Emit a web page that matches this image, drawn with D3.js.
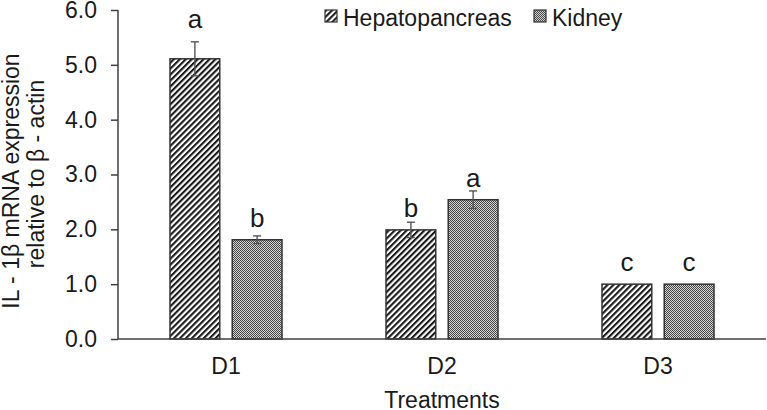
<!DOCTYPE html>
<html>
<head>
<meta charset="utf-8">
<script src="https://cdn.jsdelivr.net/npm/d3@7"></script>
<style>
  body { margin: 0; background: #fff; }
  text { font-family: "Liberation Sans", Arial, sans-serif; fill: #1a1a1a; }
</style>
</head>
<body>
<script>
var categories = ["D1", "D2", "D3"];
var series = ["Hepatopancreas", "Kidney"];
var hepato = [5.11, 1.99, 1.0];
var hepatoErr = [0.31, 0.14, 0];
var kidney = [1.81, 2.54, 1.0];
var kidneyErr = [0.07, 0.16, 0];
var hepatoLetters = ["a", "b", "c"];
var kidneyLetters = ["b", "a", "c"];
var yTicks = [0, 1, 2, 3, 4, 5, 6];

var width = 767,
    height = 410,
    plotLeft = 118, plotRight = 766, plotTop = 10, plotBottom = 339;

var rows = [];
categories.forEach(function(c, i) {
  rows.push({cat: c, s: series[0], v: hepato[i], e: hepatoErr[i], l: hepatoLetters[i]});
  rows.push({cat: c, s: series[1], v: kidney[i], e: kidneyErr[i], l: kidneyLetters[i]});
});

var svg = d3.select("body").append("svg")
    .attr("width", width)
    .attr("height", height);

var defs = svg.append("defs");
var hatch = defs.append("pattern")
    .attr("id", "hatch")
    .attr("patternUnits", "userSpaceOnUse")
    .attr("width", 4.2).attr("height", 4.2)
    .attr("patternTransform", "rotate(45)");
hatch.append("rect").attr("width", 4.2).attr("height", 4.2).attr("fill", "#fff");
hatch.append("rect").attr("width", 2.1).attr("height", 4.2).attr("fill", "#1a1a1a");

var checker = defs.append("pattern")
    .attr("id", "checker")
    .attr("patternUnits", "userSpaceOnUse")
    .attr("width", 2).attr("height", 2);
checker.append("rect").attr("width", 2).attr("height", 2).attr("fill", "#cfcfcf");
checker.append("rect").attr("width", 1).attr("height", 1).attr("fill", "#4a4a4a");
checker.append("rect").attr("x", 1).attr("y", 1).attr("width", 1).attr("height", 1).attr("fill", "#4a4a4a");

var fills = {"Hepatopancreas": "url(#hatch)", "Kidney": "url(#checker)"};

var x0 = d3.scaleBand().domain(categories).range([plotLeft, plotRight]);
var x1 = d3.scaleBand().domain(series)
    .range([x0.bandwidth() / 2 - 56, x0.bandwidth() / 2 + 56])
    .paddingInner(0.2);
var y = d3.scaleLinear().domain([0, 6]).range([plotBottom, plotTop]);

// y axis
var yAxis = svg.append("g")
    .attr("transform", "translate(" + plotLeft + ",0)")
    .call(d3.axisLeft(y).tickValues(yTicks).tickSize(7).tickPadding(14)
      .tickFormat(d3.format(".1f")));
yAxis.selectAll("text").style("font-size", "23px").attr("fill", "#1a1a1a");
yAxis.selectAll("line, path").attr("stroke", "#404040").attr("stroke-width", 1.5);
yAxis.select(".domain").attr("d", "M0," + plotTop + "V" + plotBottom);

// bars
svg.selectAll(".bar")
    .data(rows)
  .enter().append("rect")
    .attr("class", "bar")
    .attr("x", function(d) { return x0(d.cat) + x1(d.s); })
    .attr("y", function(d) { return y(d.v); })
    .attr("width", x1.bandwidth())
    .attr("height", function(d) { return y(0) - y(d.v); })
    .attr("fill", function(d) { return fills[d.s]; })
    .attr("stroke", "#333")
    .attr("stroke-width", 1.5);

// error bars
var eb = svg.selectAll(".err")
    .data(rows.filter(function(d) { return d.e > 0; }))
  .enter().append("g")
    .attr("class", "err")
    .attr("stroke", "#555")
    .attr("stroke-width", 1.4);
eb.append("line")
    .attr("x1", function(d) { return x0(d.cat) + x1(d.s) + x1.bandwidth() / 2; })
    .attr("x2", function(d) { return x0(d.cat) + x1(d.s) + x1.bandwidth() / 2; })
    .attr("y1", function(d) { return y(d.v + d.e); })
    .attr("y2", function(d) { return y(d.v - d.e); });
[1, -1].forEach(function(sgn) {
  eb.append("line")
    .attr("x1", function(d) { return x0(d.cat) + x1(d.s) + x1.bandwidth() / 2 - 4; })
    .attr("x2", function(d) { return x0(d.cat) + x1(d.s) + x1.bandwidth() / 2 + 4; })
    .attr("y1", function(d) { return y(d.v + sgn * d.e); })
    .attr("y2", function(d) { return y(d.v + sgn * d.e); });
});

// significance letters
svg.selectAll(".letter")
    .data(rows)
  .enter().append("text")
    .attr("class", "letter")
    .attr("x", function(d) { return x0(d.cat) + x1(d.s) + x1.bandwidth() / 2; })
    .attr("y", function(d) {
      var t = y(d.v) - 13, et = y(d.v + d.e);
      return et < t ? et - 14 : t;
    })
    .attr("text-anchor", "middle")
    .style("font-size", "26px")
    .text(function(d) { return d.l; });

// x axis
var xAxis = svg.append("g")
    .attr("transform", "translate(0," + plotBottom + ")")
    .call(d3.axisBottom(x0).tickSize(0).tickPadding(19));
xAxis.selectAll("text").style("font-size", "23px").attr("fill", "#1a1a1a")
    .attr("dy", "0.71em");
xAxis.select(".domain").attr("stroke", "#404040").attr("stroke-width", 1.5)
    .attr("d", "M" + plotLeft + ",0H" + plotRight);

// axis titles
svg.append("text")
    .attr("x", 442)
    .attr("y", 408)
    .attr("text-anchor", "middle")
    .style("font-size", "23px")
    .text("Treatments");

svg.append("text")
    .attr("transform", "translate(19,181) rotate(-90)")
    .attr("text-anchor", "middle")
    .style("font-size", "23px")
    .text("IL - 1β mRNA expression");
svg.append("text")
    .attr("transform", "translate(44,174) rotate(-90)")
    .attr("text-anchor", "middle")
    .style("font-size", "23px")
    .text("relative to β - actin");

// legend
var legendX = [325, 534];
var legend = svg.selectAll(".legend")
    .data(series)
  .enter().append("g")
    .attr("class", "legend")
    .attr("transform", function(d, i) { return "translate(" + legendX[i] + ",10)"; });
legend.append("rect")
    .attr("width", 12).attr("height", 12)
    .attr("fill", function(d) { return fills[d]; })
    .attr("stroke", "#333").attr("stroke-width", 1.2);
legend.append("text")
    .attr("x", 18)
    .attr("y", 14)
    .attr("dy", "0.1em")
    .style("font-size", "23px")
    .text(function(d) { return d; });
</script>
</body>
</html>
